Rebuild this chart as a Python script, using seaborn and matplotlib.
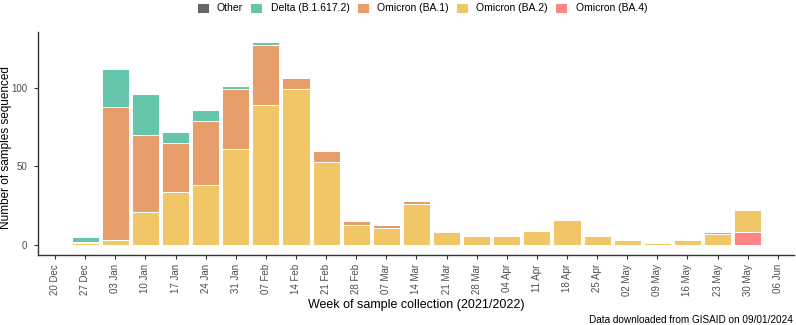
import pandas as pd
import numpy as np
import matplotlib
matplotlib.use("Agg")
import matplotlib.pyplot as plt
import seaborn as sns

# datos

tick_labels = ["20 Dec", "27 Dec", "03 Jan", "10 Jan", "17 Jan", "24 Jan", "31 Jan",
               "07 Feb", "14 Feb", "21 Feb", "28 Feb", "07 Mar", "14 Mar", "21 Mar",
               "28 Mar", "04 Apr", "11 Apr", "18 Apr", "25 Apr", "02 May", "09 May",
               "16 May", "23 May", "30 May", "06 Jun"]

weeks = tick_labels[1:24]

other = [0, 0, 0, 0, 0, 0, 0, 0, 0, 0, 0, 0, 0, 0, 0, 0, 0, 0, 0, 1, 0, 0, 0]
delta = [3, 24, 26, 7, 7, 2, 2, 1, 0, 0, 0, 0, 0, 0, 0, 0, 0, 0, 0, 0, 0, 0, 0]
ba1 = [1, 85, 49, 31, 41, 38, 38, 7, 7, 2, 2, 2, 0, 0, 0, 0, 0, 0, 0, 0, 0, 1, 0]
ba2 = [1, 3, 21, 34, 38, 61, 89, 99, 53, 13, 11, 26, 8, 6, 6, 9, 16, 6, 3, 1, 3, 7, 14]
ba4 = [0, 0, 0, 0, 0, 0, 0, 0, 0, 0, 0, 0, 0, 0, 0, 0, 0, 0, 0, 0, 0, 0, 8]

variants = ["Other", "Delta (B.1.617.2)", "Omicron (BA.1)", "Omicron (BA.2)", "Omicron (BA.4)"]
colores = ["#666666", "#66C6AB", "#E89E6A", "#F0C667", "#FF8585"]

filas = []
for nombre, valores in zip(variants, [other, delta, ba1, ba2, ba4]):
    for semana, n in zip(weeks, valores):
        filas.append({"week": tick_labels.index(semana), "variant": nombre, "n": n})
data = pd.DataFrame(filas)

# grafico

plt.rcParams["font.family"] = ["Liberation Sans", "DejaVu Sans"]

fig, ax = plt.subplots(figsize=(7.96, 3.25), dpi=100)
fig.subplots_adjust(left=0.048, right=0.998, bottom=0.215, top=0.902)

sns.histplot(data=data, x="week", weights="n", hue="variant", hue_order=variants,
             palette=colores, multiple="stack", discrete=True, shrink=0.9,
             alpha=1, edgecolor="white", linewidth=0.7, ax=ax)

ax.set_xlim(-0.56, 24.55)
ax.set_ylim(-6.45, 135.5)
ax.set_xticks(range(len(tick_labels)))
ax.set_xticklabels(tick_labels, rotation=90, fontsize=7, color="#4D4D4D")
ax.set_yticks([0, 50, 100])
ax.set_yticklabels(["0", "50", "100"], fontsize=7, color="#4D4D4D")
ax.tick_params(length=3, width=0.8, color="#333333")
ax.tick_params(axis="y", pad=5)
ax.set_xlabel("Week of sample collection (2021/2022)", fontsize=9, labelpad=2)
ax.set_ylabel("Number of samples sequenced", fontsize=8.5)
ax.yaxis.set_label_coords(-0.034, 0.48)
for lado in ["top", "right"]:
    ax.spines[lado].set_visible(False)
for lado in ["left", "bottom"]:
    ax.spines[lado].set_color("#333333")
    ax.spines[lado].set_linewidth(1)

sns.move_legend(ax, "center", bbox_to_anchor=(0.53, 0.975), bbox_transform=fig.transFigure,
                ncol=5, frameon=False, title=None, fontsize=7.5,
                handlelength=1.15, handleheight=1.15, columnspacing=0.7, handletextpad=0.8)

fig.text(0.996, 0.015, "Data downloaded from GISAID on 09/01/2024", ha="right", va="center",
         fontsize=7.2)

plt.savefig("out.png", dpi=100)
